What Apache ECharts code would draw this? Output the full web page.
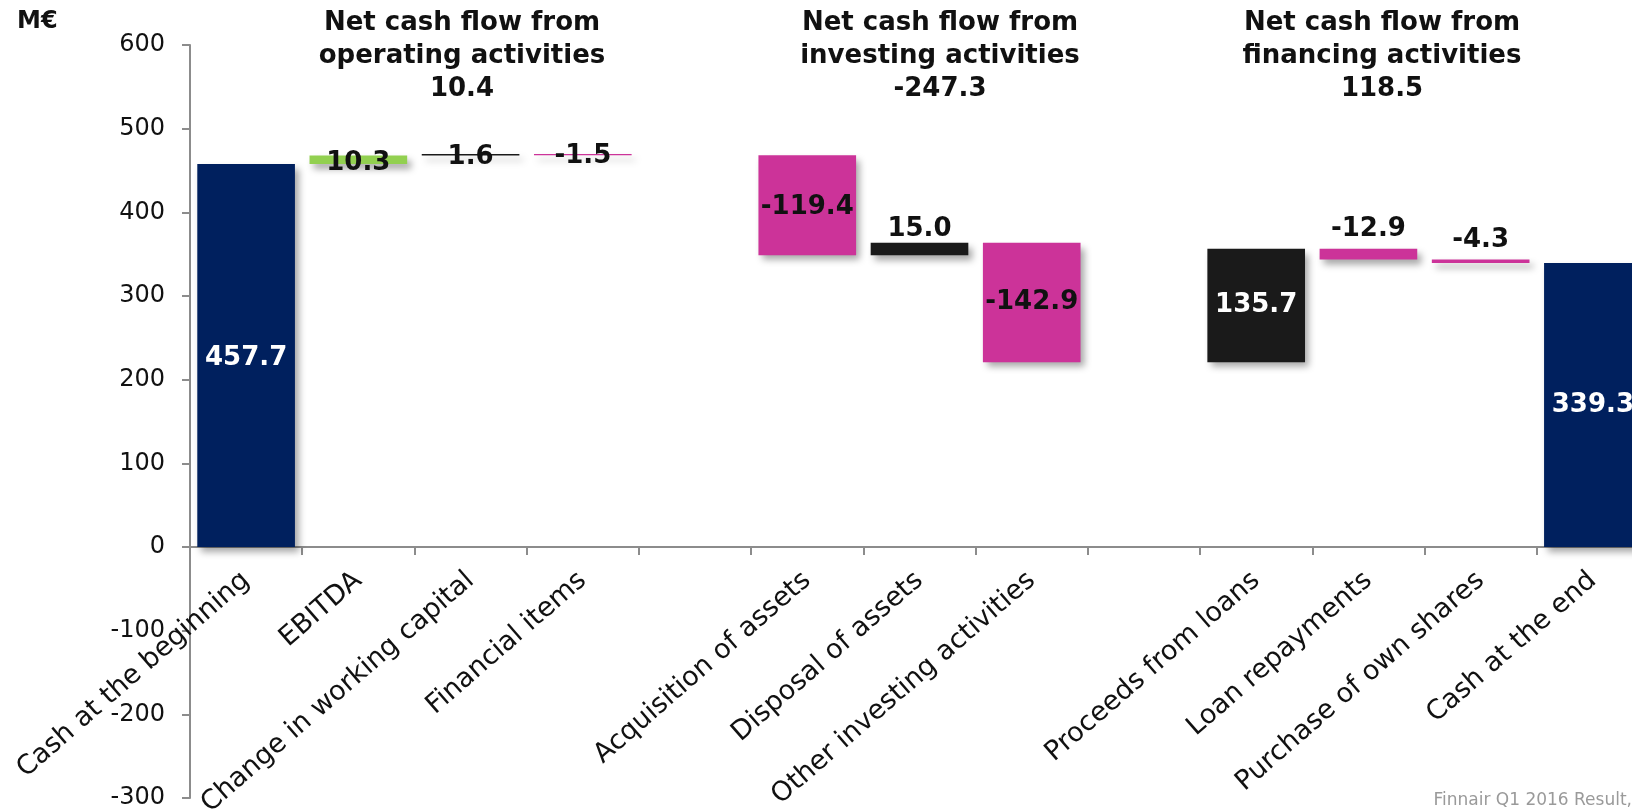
<!DOCTYPE html>
<html>
<head>
<meta charset="utf-8">
<script src="https://cdn.jsdelivr.net/npm/echarts@6/dist/echarts.min.js"></script>
<style>
html,body{margin:0;padding:0;background:#fff;}
#chart{width:1632px;height:811px;}
</style>
</head>
<body>
<div id="chart"></div>
<script>
// ---- data ----
const categories = ['Cash at the beginning', 'EBITDA', 'Change in working capital', 'Financial items', '',
  'Acquisition of assets', 'Disposal of assets', 'Other investing activities', '',
  'Proceeds from loans', 'Loan repayments', 'Purchase of own shares', 'Cash at the end'];
const changes = [457.7, 10.3, 1.6, -1.5, null, -119.4, 15.0, -142.9, null, 135.7, -12.9, -4.3, 339.3];
const isTotal = [true, false, false, false, false, false, false, false, false, false, false, false, true];
const sectionTitles = ['Net cash flow from\noperating activities', 'Net cash flow from\ninvesting activities', 'Net cash flow from\nfinancing activities'];
const sectionTotals = ['10.4', '-247.3', '118.5'];
const yMin = -300, yMax = 600, yStep = 100;
const unitLabel = 'M€';
const footnote = 'Finnair Q1 2016 Result,';

// ---- styles (kept separate from data) ----
const NAVY = '#00205E', GREEN = '#92D050', BLACK = '#1A1A1A', PINK = '#CC3399';
const barColors = [NAVY, GREEN, BLACK, PINK, null, PINK, BLACK, PINK, null, BLACK, PINK, PINK, NAVY];
const labelPlace = ['inside', 'inside', 'inside', 'inside', null, 'inside', 'top', 'inside', null, 'inside', 'top', 'top', 'inside'];
const labelColor = ['#fff', '#111', '#111', '#111', null, '#111', '#111', '#111', null, '#fff', '#111', '#111', '#fff'];
const labelOffset = [[0,3],[0,4],[0,2],[0,2],null,[0,2],[0,0],[0,0],null,[0,0],[0,-1],[0,-1],[0,0]];
const labelDist = [5,5,5,5,5,5,0,5,5,5,5,5,5];

// ---- build waterfall stacks ----
const baseData = [], valueData = [];
let running = 0;
changes.forEach((v, i) => {
  if (v === null) { baseData.push('-'); valueData.push('-'); return; }
  let lo, hi;
  if (isTotal[i]) { lo = 0; hi = v; running = v; }
  else { const s = running, e = running + v; lo = Math.min(s, e); hi = Math.max(s, e); running = e; }
  baseData.push(+lo.toFixed(2));
  valueData.push({
    value: +(hi - lo).toFixed(2),
    raw: v,
    itemStyle: { color: barColors[i] },
    label: {
      position: labelPlace[i],
      color: labelColor[i],
      offset: labelOffset[i],
      distance: labelDist[i]
    }
  });
});

const FONT = '"DejaVu Sans", Verdana, sans-serif';
const titleCenters = [462, 940, 1382];
const GRID_TOP = 45, GRID_H = 753;
const zeroOffset = -GRID_H * (0 - yMin) / (yMax - yMin);

const chart = echarts.init(document.getElementById('chart'), null, { renderer: 'canvas' });
chart.setOption({
  animation: false,
  backgroundColor: '#fff',
  grid: { left: 190, top: GRID_TOP, width: 1459, height: GRID_H, containLabel: false, outerBoundsMode: 'none' },
  xAxis: {
    type: 'category',
    data: categories,
    position: 'bottom',
    offset: zeroOffset,
    axisLine: { show: true, onZero: false, lineStyle: { color: '#8C8C8C', width: 2 } },
    axisTick: { show: true, interval: 0, length: 8, lineStyle: { color: '#8C8C8C', width: 2 } },
    axisLabel: { interval: 0, rotate: 41, margin: 30, fontFamily: FONT, fontSize: 27, color: '#111', hideOverlap: false }
  },
  yAxis: {
    type: 'value',
    min: yMin, max: yMax, interval: yStep,
    axisLine: { show: true, lineStyle: { color: '#8C8C8C', width: 2 } },
    axisTick: { show: true, length: 8, lineStyle: { color: '#8C8C8C', width: 2 } },
    splitLine: { show: false },
    axisLabel: { fontFamily: FONT, fontSize: 24, color: '#111', margin: 25 }
  },
  series: [
    {
      type: 'bar', stack: 'wf', data: baseData, silent: true,
      itemStyle: { color: 'transparent' }, barCategoryGap: '13%'
    },
    {
      type: 'bar', stack: 'wf', data: valueData, barCategoryGap: '13%',
      itemStyle: { shadowColor: 'rgba(0,0,0,0.35)', shadowBlur: 7, shadowOffsetX: 4, shadowOffsetY: 5 },
      label: {
        show: true, fontFamily: FONT, fontWeight: 'bold', fontSize: 26,
        formatter: p => p.data.raw.toFixed(1)
      }
    }
  ],
  graphic: [
    { type: 'text', left: 17, top: 10, style: { text: unitLabel, font: 'bold 24px ' + FONT, fill: '#111' } },
    ...sectionTitles.map((t, i) => ({
      type: 'text', x: titleCenters[i], y: 7,
      style: {
        text: t + '\n' + sectionTotals[i], font: 'bold 26px ' + FONT, fill: '#111',
        align: 'center', verticalAlign: 'top', lineHeight: 33
      }
    })),
    { type: 'text', x: 1632, y: 801, style: { text: footnote, font: '17px ' + FONT, fill: '#9A9A9A', align: 'right', verticalAlign: 'middle' } }
  ]
});
</script>
</body>
</html>
